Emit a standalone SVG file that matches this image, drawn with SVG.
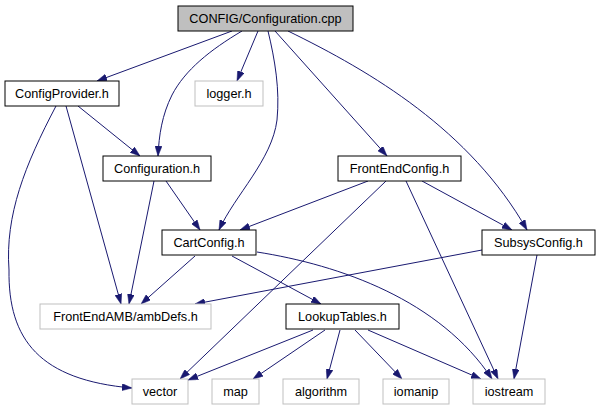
<svg xmlns="http://www.w3.org/2000/svg" width="600" height="411" viewBox="0 0 600 411">
<defs>
<marker id="arr" markerWidth="10" markerHeight="7" refX="10" refY="3.5" orient="auto" markerUnits="userSpaceOnUse">
<path d="M0,0 L10,3.5 L0,7 z" fill="#191970" stroke="#191970" stroke-width="0.5"/>
</marker>
<style>
.n rect{fill:#fff;stroke:#000;stroke-width:1}
.n.g rect{stroke:#bfbfbf}
.n.root rect{fill:#bfbfbf}
.n text{font-family:"Liberation Sans",Arial,sans-serif;font-size:12.7px;text-anchor:middle;fill:#000}
#edges path{fill:none;stroke:#191970;stroke-width:1;marker-end:url(#arr)}
</style>
</defs>
<rect width="600" height="411" fill="#fff"/>
<g id="edges">
<path d="M232,31 L97,81"/>
<path d="M242,31 C210,50 185,70 172,95 C162,115 159,135 158,156"/>
<path d="M258,31 L237,81"/>
<path d="M268,31 C275,60 280,90 277,120 C272,160 235,195 219,230"/>
<path d="M275,31 L387,156"/>
<path d="M288,31 C372,72 470,130 527,230"/>
<path d="M78,106 L140,156"/>
<path d="M56,106 C25,165 5,215 9,270 C8,340 40,380 132,388"/>
<path d="M66,106 L121,304"/>
<path d="M154,181 L129,304"/>
<path d="M166,181 L200,230"/>
<path d="M368,181 L240,230"/>
<path d="M386,181 L180,379"/>
<path d="M422,181 L512,230"/>
<path d="M406,181 L498,379"/>
<path d="M195,256 L141,304"/>
<path d="M232,256 L321,304"/>
<path d="M257,252 C340,265 440,300 492,379"/>
<path d="M482,250 L195,304"/>
<path d="M537,255 L514,379"/>
<path d="M313,330 L188,380"/>
<path d="M325,330 L253,379"/>
<path d="M340,330 L327,379"/>
<path d="M355,330 L402,379"/>
<path d="M368,330 L481,379"/>
</g>
<g id="n_cpp" class="n root"><rect x="178" y="6" width="175" height="25"/><text x="265.5" y="23">CONFIG/Configuration.cpp</text></g>
<g id="n_configprovider" class="n"><rect x="5" y="81" width="114" height="25"/><text x="62" y="98">ConfigProvider.h</text></g>
<g id="n_logger" class="n g"><rect x="195" y="81" width="68" height="25"/><text x="229" y="98">logger.h</text></g>
<g id="n_configuration" class="n"><rect x="103" y="156" width="108" height="25"/><text x="157" y="173">Configuration.h</text></g>
<g id="n_frontendconfig" class="n"><rect x="338" y="156" width="123" height="25"/><text x="399.5" y="173">FrontEndConfig.h</text></g>
<g id="n_cartconfig" class="n"><rect x="162" y="230" width="94" height="25"/><text x="209" y="247">CartConfig.h</text></g>
<g id="n_subsysconfig" class="n"><rect x="482" y="230" width="113" height="25"/><text x="538.5" y="247">SubsysConfig.h</text></g>
<g id="n_ambdefs" class="n g"><rect x="40" y="304" width="171" height="25"/><text x="125.5" y="321">FrontEndAMB/ambDefs.h</text></g>
<g id="n_lookuptables" class="n"><rect x="286" y="304" width="113" height="25"/><text x="342.5" y="321">LookupTables.h</text></g>
<g id="n_vector" class="n g"><rect x="132" y="379" width="56" height="25"/><text x="160" y="396">vector</text></g>
<g id="n_map" class="n g"><rect x="212" y="379" width="47" height="25"/><text x="235.5" y="396">map</text></g>
<g id="n_algorithm" class="n g"><rect x="283" y="379" width="76" height="25"/><text x="321" y="396">algorithm</text></g>
<g id="n_iomanip" class="n g"><rect x="383" y="379" width="66" height="25"/><text x="416" y="396">iomanip</text></g>
<g id="n_iostream" class="n g"><rect x="473" y="379" width="72" height="25"/><text x="509" y="396">iostream</text></g>
</svg>
